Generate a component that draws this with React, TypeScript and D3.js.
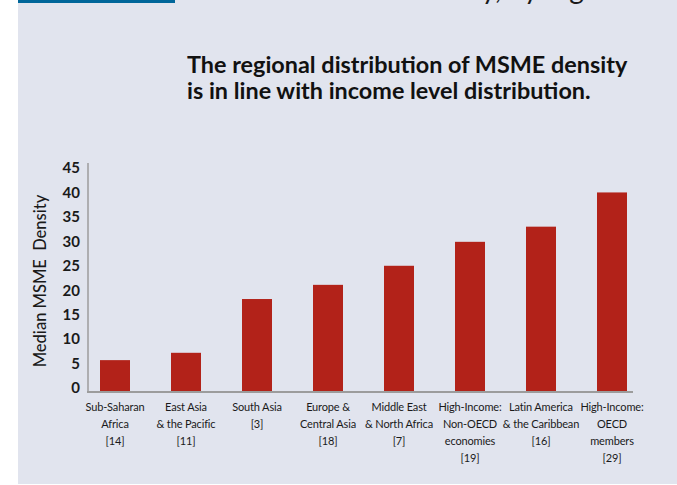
import { useEffect, useMemo, useRef } from 'react';
import * as d3 from 'd3';

const WIDTH = 677;
const HEIGHT = 485;
// plot area (inner): left edge = y axis, bottom = x axis line
const MARGIN = { top: 163, right: 44, bottom: 93, left: 88 };

const TITLE_LINES = [
  'The regional distribution of MSME density',
  'is in line with income level distribution.',
];
const Y_LABEL = 'Median MSME\u00a0\u00a0Density';

const REGIONS = [
  ['Sub-Saharan', 'Africa', '[14]'],
  ['East Asia', '& the Pacific', '[11]'],
  ['South Asia', '[3]'],
  ['Europe &', 'Central Asia', '[18]'],
  ['Middle East', '& North Africa', '[7]'],
  ['High-Income:', 'Non-OECD', 'economies', '[19]'],
  ['Latin America', '& the Caribbean', '[16]'],
  ['High-Income:', 'OECD', 'members', '[29]'],
];
const DENSITY = [5.7, 7.2, 18.2, 21.1, 25, 29.9, 33, 40];
const Y_TICKS = [0, 5, 10, 15, 20, 25, 30, 35, 40, 45];

const BAR_COLOR = '#b22219';
const BG = '#e1e4ee';
const AXIS = '#9c9c9c';
const FONT = 'Lato, "Open Sans", sans-serif';

export default function App() {
  const axisLeftRef = useRef<SVGGElement>(null);

  const innerWidth = WIDTH - MARGIN.left - MARGIN.right;
  const innerHeight = HEIGHT - MARGIN.top - MARGIN.bottom;
  const keys = REGIONS.map((r) => r.join(' '));

  const x = useMemo(
    () => d3.scalePoint<string>().domain(keys).range([27, 524]),
    [innerWidth]
  );
  // labels sit a little above the baseline in the original, so 0 is lifted
  const y = useMemo(
    () => d3.scaleLinear().domain([0, 45]).range([innerHeight - 4, 5]),
    [innerHeight]
  );

  useEffect(() => {
    const g = d3.select(axisLeftRef.current);
    g.call(d3.axisLeft(y).tickValues(Y_TICKS).tickSize(0).tickPadding(8));
    g.select('.domain').remove();
    g.selectAll('text')
      .attr('fill', '#1a1a1a')
      .attr('font-family', FONT)
      .attr('font-weight', 700)
      .attr('font-size', 15);
  }, [y]);

  const barWidth = 30;

  return (
    <div style={{ position: 'absolute', left: 0, top: 0 }}>
      <svg width={WIDTH} height={HEIGHT} style={{ display: 'block' }}>
        <rect width={WIDTH} height={HEIGHT} fill="#fff" />
        <rect x={18} y={0} width={WIDTH - 18} height={HEIGHT - 1} fill={BG} />
        <rect x={18} y={0} width={157} height={3} fill="#00669a" />
        <text
          x={622}
          y={-1}
          textAnchor="end"
          fontFamily={FONT}
          fontSize={28}
          fill="#1a1a1a"
        >
          MSME Density, by region
        </text>

        {TITLE_LINES.map((t, i) => (
          <text
            key={t}
            x={187}
            y={73 + i * 26}
            fontFamily={FONT}
            fontWeight={700}
            fontSize={23.4}
            fill="#111"
          >
            {t}
          </text>
        ))}

        <text
          transform={`translate(46,${MARGIN.top + 118}) rotate(-90)`}
          textAnchor="middle"
          fontFamily={FONT}
          fontWeight={500}
          fontSize={16.5}
          fill="#1a1a1a"
        >
          {Y_LABEL}
        </text>

        <g transform={`translate(${MARGIN.left},${MARGIN.top})`}>
          {DENSITY.map((v, i) => (
            <rect
              key={keys[i]}
              x={(x(keys[i]) ?? 0) - barWidth / 2}
              y={y(v)}
              width={barWidth}
              height={innerHeight - y(v)}
              fill={BAR_COLOR}
            />
          ))}
          <g ref={axisLeftRef} />
          <line x1={0} x2={0} y1={0} y2={innerHeight} stroke={AXIS} strokeWidth={1.5} />
          <line x1={-1} x2={innerWidth} y1={innerHeight} y2={innerHeight} stroke={AXIS} strokeWidth={2} />
          {REGIONS.map((lines, i) => (
            <text
              key={keys[i]}
              textAnchor="middle"
              fontFamily={FONT}
              fontSize={11}
              letterSpacing={-0.15}
              fill="#1a1a1a"
            >
              {lines.map((l, j) => (
                <tspan key={j} x={x(keys[i])} y={innerHeight + 19 + j * 17}>
                  {l}
                </tspan>
              ))}
            </text>
          ))}
        </g>
      </svg>
    </div>
  );
}
